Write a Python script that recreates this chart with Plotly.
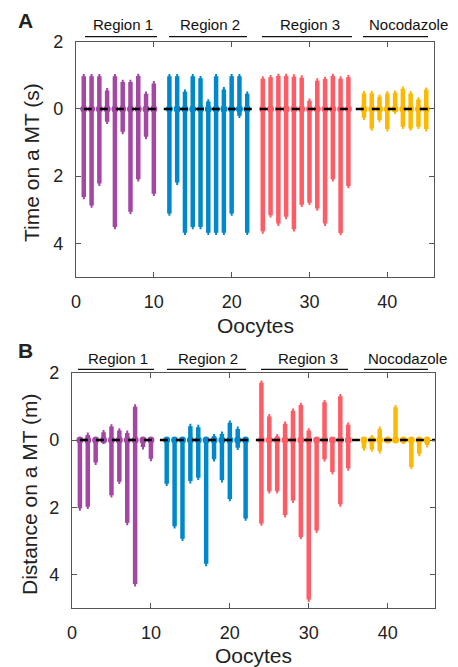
import numpy as np
import plotly.graph_objects as go

# page body has an 8px margin; the figure is sized to fit the 458x667 window
OFF = 8
W, H = 458 - OFF, 667 - OFF
FONT = "Liberation Sans, Arial, Helvetica, sans-serif"

# ---------------- data ----------------
group_names = ["Region 1", "Region 2", "Region 3", "Nocodazole"]
group_colors = ["#A346A4", "#0088CC", "#FF5C66", "#FFB800"]
oocytes = [list(range(1, 11)), list(range(12, 23)), list(range(24, 36)), list(range(37, 46))]

time_up = [
    [1.04, 1.04, 1.04, 0.62, 1.04, 0.87, 0.87, 1.05, 0.52, 0.83],
    [1.04, 1.04, 0.58, 1.04, 0.98, 0.29, 1.04, 0.65, 1.04, 1.04, 0.52],
    [0.97, 1.01, 1.05, 1.05, 1.03, 1.00, 0.31, 0.91, 0.96, 1.05, 0.97, 1.01],
    [0.53, 0.54, 0.43, 0.53, 0.55, 0.67, 0.53, 0.35, 0.64],
]
time_down = [
    [2.69, 2.94, 2.29, 0.45, 3.58, 0.75, 3.13, 2.16, 0.90, 2.59],
    [3.18, 2.26, 3.75, 3.58, 3.58, 3.75, 3.75, 3.75, 3.18, 0.27, 3.75],
    [3.71, 3.23, 3.48, 3.28, 3.65, 2.92, 2.86, 3.03, 3.48, 2.16, 3.76, 2.36],
    [0.33, 0.65, 0.40, 0.67, 0.15, 0.60, 0.65, 0.60, 0.67],
]
dist_up = [
    [0.03, 0.22, 0.00, 0.30, 0.47, 0.35, 0.28, 1.06, 0.05, 0.05],
    [0.05, 0.05, 0.05, 0.48, 0.45, 0.08, 0.18, 0.25, 0.58, 0.40, 0.05],
    [1.77, 0.77, 0.18, 0.55, 0.94, 1.11, 0.35, 0.08, 1.19, 0.05, 1.37, 0.52],
    [0.08, 0.15, 0.40, 0.05, 1.04, 0.08, 0.05, 0.08, 0.03],
]
dist_down = [
    [2.10, 2.05, 0.74, 0.12, 1.71, 1.31, 2.53, 4.35, 0.28, 0.63],
    [1.37, 2.63, 3.00, 1.29, 1.19, 3.75, 0.64, 1.26, 1.82, 0.30, 2.40],
    [2.55, 1.59, 1.59, 2.30, 1.87, 2.95, 4.81, 2.76, 0.64, 1.02, 1.98, 0.91],
    [0.32, 0.35, 0.40, 0.03, 0.05, 0.12, 0.87, 0.48, 0.22],
]

x_ticks = [0, 10, 20, 30, 40]
y_tickvals = [2, 0, -2, -4]
y_ticktext = ["2", "0", "2", "4"]


def px(x):
    return (x - OFF) / W


def py(y):
    return 1 - (y - OFF) / H


fig = go.Figure()

panels = [
    ("x", "y", time_up, time_down),
    ("x2", "y2", dist_up, dist_down),
]
TIP = 0.07
for xa, ya, ups, downs in panels:
    for g in range(4):
        xs = oocytes[g]
        up = np.array(ups[g])
        dn = np.array(downs[g])
        col = group_colors[g]
        zeros = [0] * len(xs)
        # thin tips
        fig.add_trace(go.Scatter(
            x=xs, y=zeros, mode="markers", xaxis=xa, yaxis=ya,
            marker=dict(size=1, color=col, opacity=0),
            error_y=dict(type="data", symmetric=False, array=up, arrayminus=dn,
                         thickness=2, width=0, color=col),
            showlegend=False, hoverinfo="skip"))
        # thick bars
        fig.add_trace(go.Scatter(
            x=xs, y=zeros, mode="markers", xaxis=xa, yaxis=ya,
            marker=dict(size=7, color=col, symbol="circle"),
            error_y=dict(type="data", symmetric=False,
                         array=np.maximum(up - TIP, 0), arrayminus=np.maximum(dn - TIP, 0),
                         thickness=4.5, width=0, color=col),
            showlegend=False))
    fig.add_trace(go.Scatter(
        x=[1, 46], y=[0, 0], mode="lines", xaxis=xa, yaxis=ya,
        line=dict(color="black", width=2.5, dash="8px,8px"),
        showlegend=False, hoverinfo="skip"))

axis_common = dict(
    showline=True, linecolor="#555", linewidth=1.2, mirror="ticks",
    ticks="inside", ticklen=5, tickcolor="#555", tickwidth=1,
    showgrid=False, zeroline=False, automargin=False,
    tickfont=dict(family=FONT, size=18, color="#222"),
    ticklabelstandoff=8,
)

fig.update_layout(
    template="none",
    width=W, height=H,
    margin=dict(l=0, r=0, t=0, b=0, pad=0, autoexpand=False),
    paper_bgcolor="white", plot_bgcolor="white",
    font=dict(family=FONT, color="#111"),
    xaxis=dict(domain=[px(76), px(434)], anchor="y", range=[0, 46],
               tickvals=x_ticks, **axis_common),
    yaxis=dict(domain=[py(277), py(41.7)], anchor="x", range=[-5, 2],
               tickvals=y_tickvals, ticktext=y_ticktext, **axis_common),
    xaxis2=dict(domain=[px(72), px(435)], anchor="y2", range=[0, 46],
                tickvals=x_ticks, **axis_common),
    yaxis2=dict(domain=[py(608.3), py(372.7)], anchor="x2", range=[-5, 2],
                tickvals=y_tickvals, ticktext=y_ticktext, **axis_common),
)

ann = []
shapes = []


def label(text, x, y, size, angle=0, color="#222"):
    ann.append(dict(text=text, x=px(x), y=py(y), xref="paper", yref="paper",
                    xanchor="center", yanchor="middle", textangle=angle,
                    showarrow=False, font=dict(size=size, color=color, family=FONT)))


# axis titles
label("Oocytes", 255, 325, 21)
label("Oocytes", 253.5, 655, 21)
label("Time on a MT (s)", 32, 163, 21, angle=-90)
label("Distance on a MT (m)", 29, 494, 21, angle=-90)
# panel letters
label("<b>A</b>", 25, 21, 21)
label("<b>B</b>", 25, 350, 21)

# region labels
top_text_x = [123, 210, 310, 408]
top_lines = [(85, 157), (169, 247), (262, 352), (363, 428)]
bot_text_x = [117.5, 208, 307.7, 407.3]
bot_lines = [(78, 154), (167, 246), (261, 348), (364, 428)]
for names_y, line_y, tx, lines in [(25, 36.7, top_text_x, top_lines),
                                   (358, 369.3, bot_text_x, bot_lines)]:
    for i, name in enumerate(group_names):
        label(name, tx[i], names_y, 15, color="#111")
        x0, x1 = lines[i]
        shapes.append(dict(type="line", xref="paper", yref="paper",
                           x0=px(x0), x1=px(x1), y0=py(line_y), y1=py(line_y),
                           line=dict(color="#111", width=1.2)))

fig.update_layout(annotations=ann, shapes=shapes)
fig.write_html("out.html")
